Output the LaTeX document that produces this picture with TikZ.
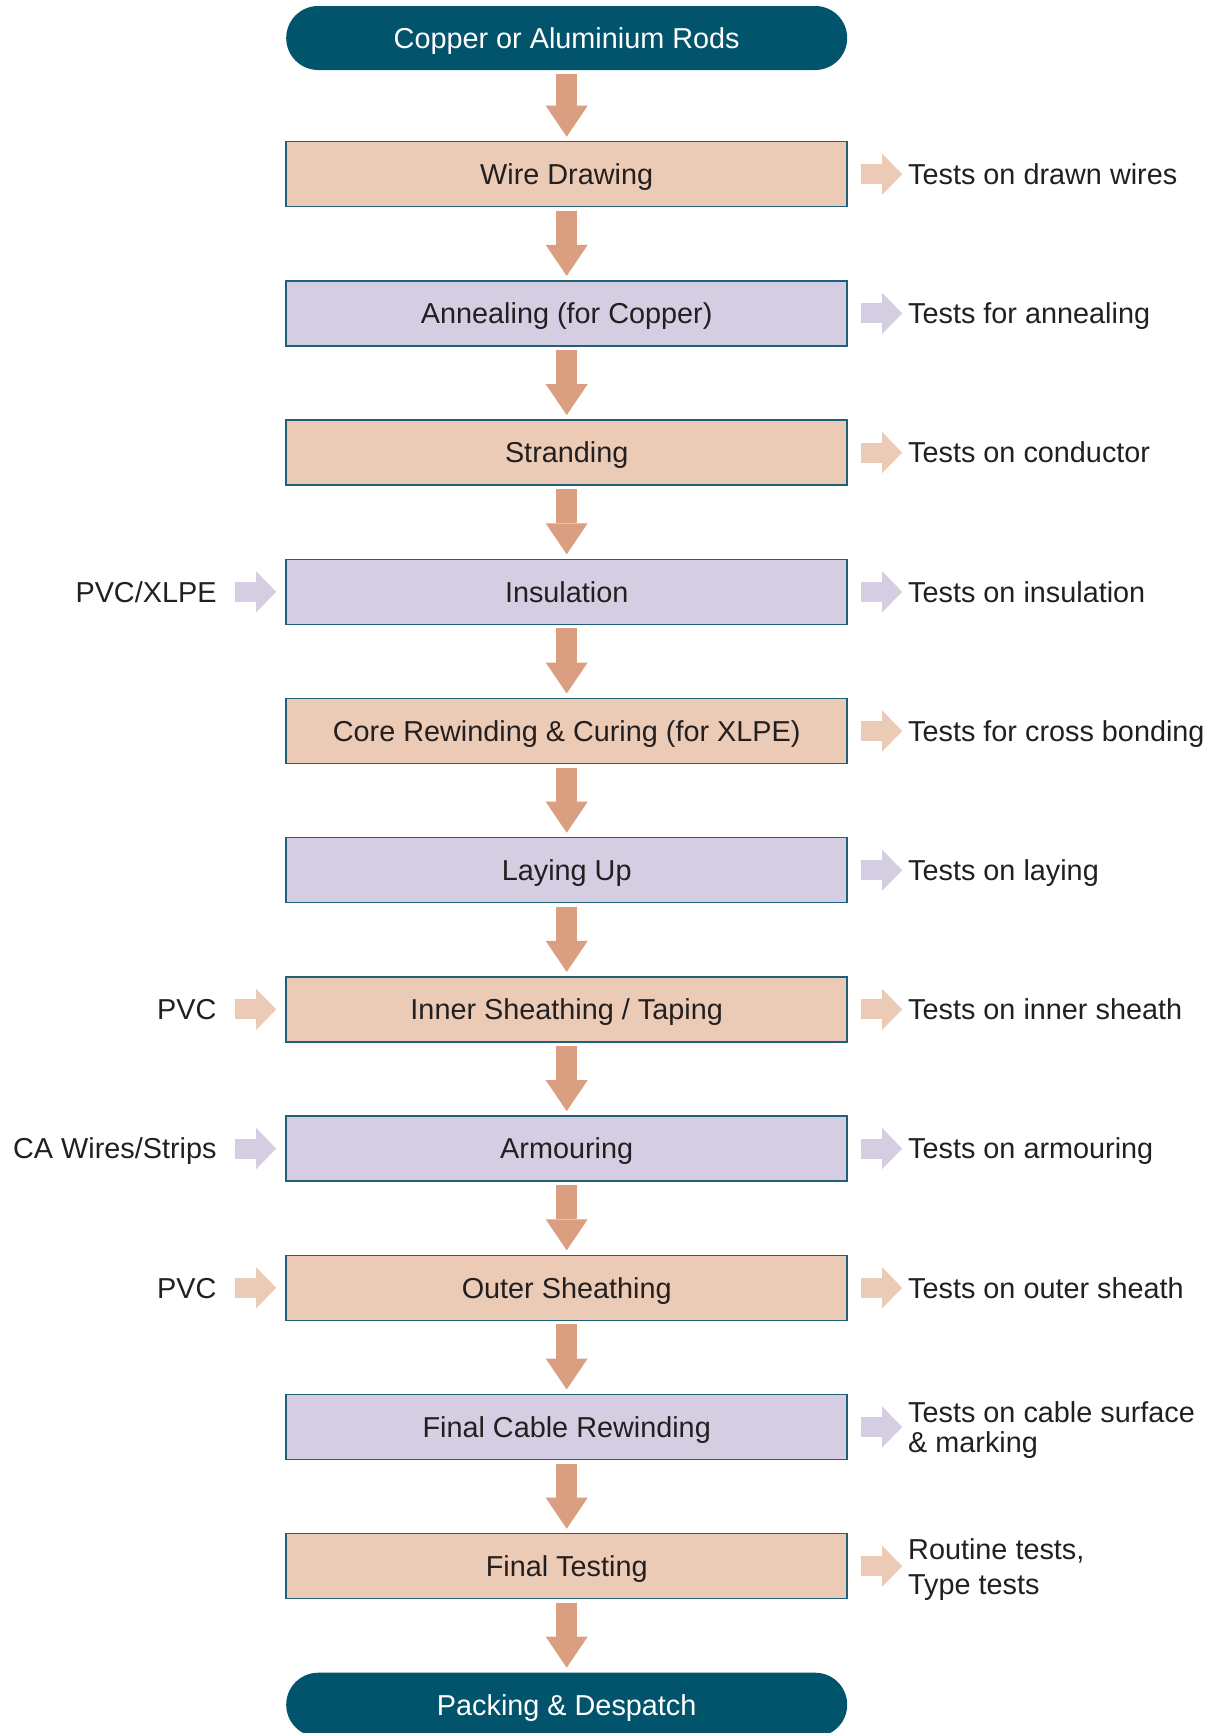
\documentclass[tikz,border=0pt]{standalone}
\usepackage{fontspec}
\setmainfont{Liberation Sans}
\usepackage{tikz}
\usetikzlibrary{positioning}
\usetikzlibrary{shapes,arrows.meta,calc}
\usepackage{color}
\definecolor{cabteal}{RGB}{2,84,108}
\definecolor{cabline}{RGB}{32,96,122}
\definecolor{boxpeach}{RGB}{235,203,182}
\definecolor{boxlilac}{RGB}{213,205,226}
\definecolor{arrowpeach}{RGB}{218,158,128}
\definecolor{txtdark}{RGB}{35,31,32}
\tikzset{
    %Define standard arrow tip
    >={Triangle[width=0.84cm,length=0.62cm,line width=0pt]},
    % Define arrow styles
    flow/.style={
           ->,
           draw,
           color=arrowpeach,
           line width=0.42cm,
           shorten <=0.08cm,
           shorten >=0.1cm,},
    side/.style={
           -{Triangle[width=0.82cm,length=0.4cm,line width=0pt]},
           draw,
           line width=0.4cm,},
    sideout/.style={side, shorten <=0.28cm, shorten >=0.12cm},
    sidein/.style={side, shorten <=0.376cm, shorten >=0.2cm}
}
\newcommand{\boxwidth}{11.22cm}
\newcommand{\boxheight}{1.3cm}

\begin{document}
\begin{tikzpicture}[node distance=0cm, outer sep=0pt, font=\fontsize{16.4}{19.7}\selectfont]
\tikzstyle{pill}=[rectangle, rounded corners=0.64cm, minimum height=1.28cm, minimum width=\boxwidth, fill=cabteal, text=white, text height=0.415cm, text depth=0pt]
\tikzstyle{peach}=[draw=cabline, line width=0.85pt, rectangle, minimum height=\boxheight, minimum width=\boxwidth, fill=boxpeach, text=txtdark, text height=0.415cm, text depth=0pt]
\tikzstyle{lilac}=[draw=cabline, line width=0.85pt, rectangle, minimum height=\boxheight, minimum width=\boxwidth, fill=boxlilac, text=txtdark, text height=0.415cm, text depth=0pt]
\tikzstyle{lbl}=[inner sep=0pt, text=txtdark, align=left, text height=0.415cm, text depth=0pt]

\useasboundingbox (0,0) rectangle (24.48,-34.66);

\node[pill] (rods) at (11.334,-0.76) {Copper or Aluminium Rods};
\node[peach] (proc1) [below = 1.434cm of rods] {Wire Drawing};
\node[lilac] (proc2) [below = 1.484cm of proc1] {Annealing (for Copper)};
\node[peach] (proc3) [below = 1.484cm of proc2] {Stranding};
\node[lilac] (proc4) [below = 1.484cm of proc3] {Insulation};
\node[peach] (proc5) [below = 1.484cm of proc4] {Core Rewinding \& Curing (for XLPE)};
\node[lilac] (proc6) [below = 1.484cm of proc5] {Laying Up};
\node[peach] (proc7) [below = 1.484cm of proc6] {Inner Sheathing / Taping};
\node[lilac] (proc8) [below = 1.484cm of proc7] {Armouring};
\node[peach] (proc9) [below = 1.484cm of proc8] {Outer Sheathing};
\node[lilac] (proc10) [below = 1.484cm of proc9] {Final Cable Rewinding};
\node[peach] (proc11) [below = 1.484cm of proc10] {Final Testing};
\node[pill] (pack) [below = 1.48cm of proc11] {Packing \& Despatch};

\path (rods.south)  edge[flow] (proc1.north);
\path (proc1.south)  edge[flow] (proc2.north);
\path (proc2.south)  edge[flow] (proc3.north);
\path (proc3.south)  edge[flow] (proc4.north);
\path (proc4.south)  edge[flow] (proc5.north);
\path (proc5.south)  edge[flow] (proc6.north);
\path (proc6.south)  edge[flow] (proc7.north);
\path (proc7.south)  edge[flow] (proc8.north);
\path (proc8.south)  edge[flow] (proc9.north);
\path (proc9.south)  edge[flow] (proc10.north);
\path (proc10.south)  edge[flow] (proc11.north);
\path (proc11.south)  edge[flow] (pack.north);

% tests on the right
\node[lbl, anchor=west] (test1) [right = 1.22cm of proc1] {Tests on drawn wires};
\node[lbl, anchor=west] (test2) [right = 1.22cm of proc2] {Tests for annealing};
\node[lbl, anchor=west] (test3) [right = 1.22cm of proc3] {Tests on conductor};
\node[lbl, anchor=west] (test4) [right = 1.22cm of proc4] {Tests on insulation};
\node[lbl, anchor=west] (test5) [right = 1.22cm of proc5] {Tests for cross bonding};
\node[lbl, anchor=west] (test6) [right = 1.22cm of proc6] {Tests on laying};
\node[lbl, anchor=west] (test7) [right = 1.22cm of proc7] {Tests on inner sheath};
\node[lbl, anchor=west] (test8) [right = 1.22cm of proc8] {Tests on armouring};
\node[lbl, anchor=west] (test9) [right = 1.22cm of proc9] {Tests on outer sheath};
\node[lbl, anchor=west, font=\fontsize{16.4}{16.6}\selectfont, text height=1.0cm] (test10) [right = 1.22cm of proc10] {Tests on cable surface\\\& marking};
\node[lbl, anchor=west, font=\fontsize{16.4}{19.9}\selectfont, text height=1.115cm] (test11) [right = 1.22cm of proc11] {Routine tests,\\Type tests};

\path (proc1.east)  edge[sideout, color=boxpeach] (test1.west);
\path (proc2.east)  edge[sideout, color=boxlilac] (test2.west);
\path (proc3.east)  edge[sideout, color=boxpeach] (test3.west);
\path (proc4.east)  edge[sideout, color=boxlilac] (test4.west);
\path (proc5.east)  edge[sideout, color=boxpeach] (test5.west);
\path (proc6.east)  edge[sideout, color=boxlilac] (test6.west);
\path (proc7.east)  edge[sideout, color=boxpeach] (test7.west);
\path (proc8.east)  edge[sideout, color=boxlilac] (test8.west);
\path (proc9.east)  edge[sideout, color=boxpeach] (test9.west);
\path (proc10.east)  edge[sideout, color=boxlilac] (test10.west);
\path (proc11.east)  edge[sideout, color=boxpeach] (test11.west);

% materials on the left
\node[lbl, anchor=east] (in4) [left = 1.394cm of proc4] {PVC/XLPE};
\node[lbl, anchor=east] (in7) [left = 1.394cm of proc7] {PVC};
\node[lbl, anchor=east] (in8) [left = 1.394cm of proc8] {CA Wires/Strips};
\node[lbl, anchor=east] (in9) [left = 1.394cm of proc9] {PVC};

\path (in4.east)  edge[sidein, color=boxlilac] (proc4.west);
\path (in7.east)  edge[sidein, color=boxpeach] (proc7.west);
\path (in8.east)  edge[sidein, color=boxlilac] (proc8.west);
\path (in9.east)  edge[sidein, color=boxpeach] (proc9.west);

\end{tikzpicture}
\end{document}
